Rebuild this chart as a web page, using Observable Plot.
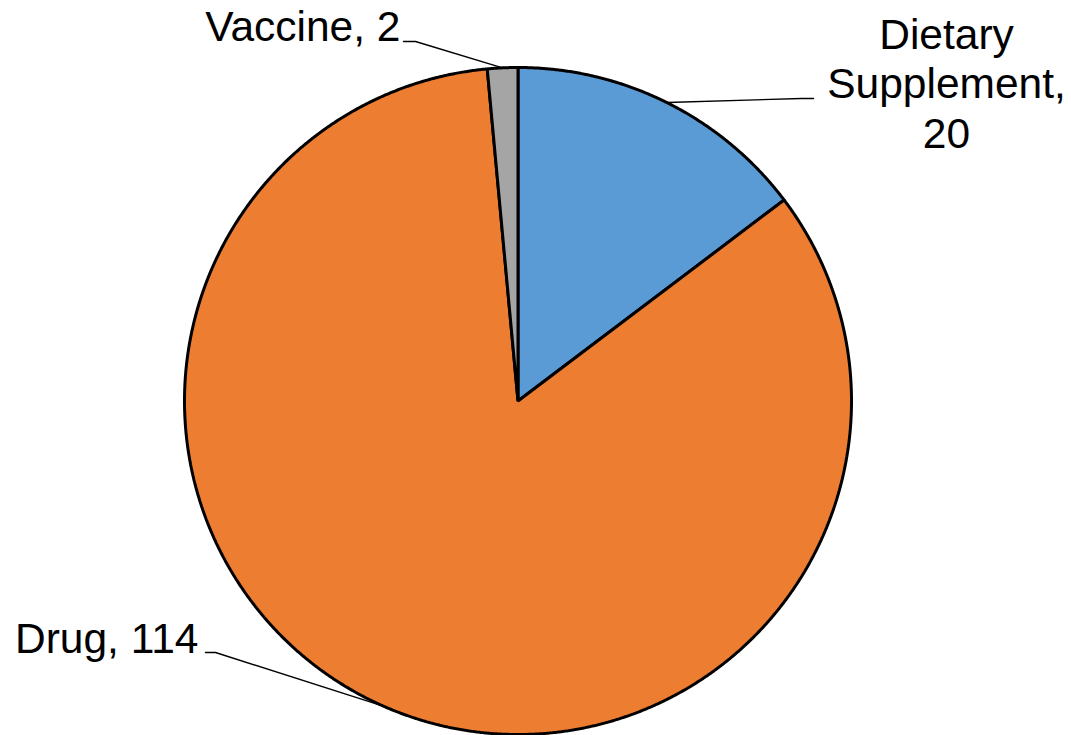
<!DOCTYPE html>
<html>
<head>
<meta charset="utf-8">
<script src="https://cdn.jsdelivr.net/npm/d3@7"></script>
<script src="https://cdn.jsdelivr.net/npm/@observablehq/plot@0.6"></script>
<style>
  html, body { margin: 0; padding: 0; background: #fff; }
  #chart svg { display: block; }
</style>
</head>
<body>
<div id="chart"></div>
<script>
// ---- data ----
const categories = ["Dietary Supplement", "Drug", "Vaccine"];
const counts = [20, 114, 2];
const labelTexts = ["Dietary\nSupplement,\n20", "Drug, 114", "Vaccine, 2"];
const colors = ["#5B9BD5", "#ED7D31", "#A5A5A5"];

// ---- layout (pixel positions of labels & leader ends) ----
const W = 1071, H = 735;
const cx = 517.5, cy = 400.5, R = 333.5;
const labelAnchor = ["middle", "end", "end"];
const labelPx = [[946, 147], [198, 652], [400, 40]];       // text anchor, last baseline
const leaderPx = [[[813, 98], [801, 98]], [[205, 652], [215, 652]], [[403, 41], [415, 41]]];

const px2x = px => (px - cx) / R;
const px2y = py => (cy - py) / R;

// ---- pie geometry from data ----
const arcs = d3.pie().sort(null).value(d => d)(counts);
const wedgePts = [];
arcs.forEach((a, i) => {
  const name = categories[i];
  wedgePts.push({name, x: 0, y: 0});
  const n = Math.max(2, Math.ceil((a.endAngle - a.startAngle) / (Math.PI / 720)));
  for (let k = 0; k <= n; k++) {
    const t = a.startAngle + (a.endAngle - a.startAngle) * k / n;
    wedgePts.push({name, x: Math.sin(t), y: Math.cos(t)});
  }
  wedgePts.push({name, x: 0, y: 0});
});

const leaderPts = [];
arcs.forEach((a, i) => {
  const name = categories[i];
  const [p0, p1] = leaderPx[i];
  const mid = (a.startAngle + a.endAngle) / 2;
  leaderPts.push({name, x: px2x(p0[0]), y: px2y(p0[1])});
  leaderPts.push({name, x: px2x(p1[0]), y: px2y(p1[1])});
  leaderPts.push({name, x: Math.sin(mid), y: Math.cos(mid)});
});

const labels = categories.map((name, i) => ({
  name, text: labelTexts[i], anchor: labelAnchor[i],
  x: px2x(labelPx[i][0]), y: px2y(labelPx[i][1])
}));

const textMarks = labels.map(l => Plot.text([l], {
  x: "x", y: "y", text: "text",
  textAnchor: l.anchor, lineAnchor: "bottom", lineHeight: 1.16,
  fontSize: 42.5, fill: "#000"
}));

const chart = Plot.plot({
  width: W, height: H,
  margin: 0,
  style: {fontFamily: "'Liberation Sans', Arial, sans-serif", background: "#fff"},
  x: {domain: [-1, 1], range: [cx - R, cx + R], axis: null},
  y: {domain: [-1, 1], range: [cy + R, cy - R], axis: null},
  color: {domain: categories, range: colors},
  marks: [
    Plot.line(wedgePts, {x: "x", y: "y", z: "name", fill: "name", stroke: "#000",
      strokeWidth: 3, strokeLinejoin: "miter", curve: "linear-closed"}),
    Plot.line(leaderPts, {x: "x", y: "y", z: "name", stroke: "#000", strokeWidth: 1.4}),
    ...textMarks
  ]
});
document.getElementById("chart").appendChild(chart);
</script>
</body>
</html>
